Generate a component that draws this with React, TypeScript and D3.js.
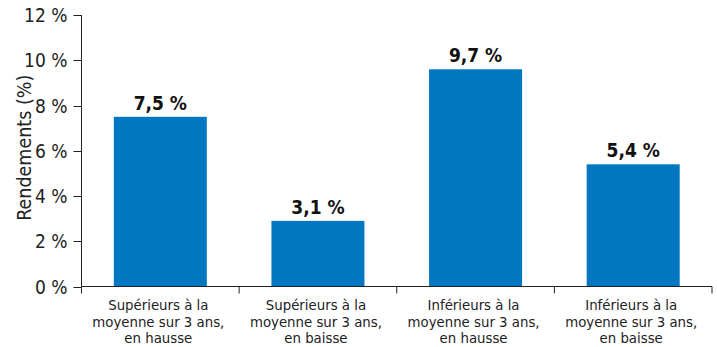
import React, { useRef, useEffect } from "react";
import * as d3 from "d3";

// categories (each label split in lines)
const categories = [
  ["Supérieurs à la", "moyenne sur 3 ans,", "en hausse"],
  ["Supérieurs à la", "moyenne sur 3 ans,", "en baisse"],
  ["Inférieurs à la", "moyenne sur 3 ans,", "en hausse"],
  ["Inférieurs à la", "moyenne sur 3 ans,", "en baisse"],
];
// bar heights
const values = [7.5, 2.9, 9.6, 5.4];
// value labels printed above the bars
const valueLabels = ["7,5 %", "3,1 %", "9,7 %", "5,4 %"];
const yTicks = [0, 2, 4, 6, 8, 10, 12];

const W = 717;
const H = 347;
const FONT = "'DejaVu Sans Condensed', 'Liberation Sans Narrow', sans-serif";

function App() {
  const svgRef = useRef<SVGSVGElement>(null);

  useEffect(() => {
    const svg = d3.select(svgRef.current);
    svg.selectAll("*").remove();

    const left = 81.5;
    const right = 712;
    const top = 15;
    const bottom = 286.5;

    const x = d3
      .scaleBand<number>()
      .domain(d3.range(values.length))
      .range([left, right])
      .paddingInner(0.41)
      .paddingOuter(0.205);
    const step = x.step();

    const y = d3.scaleLinear().domain([0, 12]).range([bottom, top]);

    // bars
    svg
      .append("g")
      .selectAll("rect")
      .data(values)
      .join("rect")
      .attr("x", (d, i) => x(i)!)
      .attr("y", (d) => y(d))
      .attr("width", x.bandwidth())
      .attr("height", (d) => bottom - y(d))
      .attr("fill", "#0077c0");

    // value labels
    svg
      .append("g")
      .selectAll("text")
      .data(values)
      .join("text")
      .attr("x", (d, i) => x(i)! + x.bandwidth() / 2)
      .attr("y", (d) => y(d) - 7)
      .attr("text-anchor", "middle")
      .style("font-family", FONT)
      .style("font-size", "19px")
      .style("font-weight", "bold")
      .attr("fill", "#111")
      .text((d, i) => valueLabels[i]);

    // y axis
    const ya = svg.append("g");
    ya.append("line")
      .attr("x1", left)
      .attr("x2", left)
      .attr("y1", top)
      .attr("y2", bottom)
      .attr("stroke", "#222");
    ya.selectAll("line.tick")
      .data(yTicks)
      .join("line")
      .attr("class", "tick")
      .attr("x1", left - 8)
      .attr("x2", left)
      .attr("y1", (d) => Math.round(y(d)) + 0.5)
      .attr("y2", (d) => Math.round(y(d)) + 0.5)
      .attr("stroke", "#222");
    ya.selectAll("text")
      .data(yTicks)
      .join("text")
      .attr("x", left - 14)
      .attr("y", (d) => y(d) + 7)
      .attr("text-anchor", "end")
      .style("font-family", FONT)
      .style("font-size", "19px")
      .attr("fill", "#222")
      .text((d) => `${d} %`);

    // y title
    svg
      .append("text")
      .attr("transform", `translate(31,${(top + bottom) / 2 - 3}) rotate(-90)`)
      .attr("text-anchor", "middle")
      .style("font-family", FONT)
      .style("font-size", "19.5px")
      .attr("fill", "#222")
      .text("Rendements (%)");

    // x axis
    const xa = svg.append("g");
    xa.append("line")
      .attr("x1", left)
      .attr("x2", right)
      .attr("y1", bottom)
      .attr("y2", bottom)
      .attr("stroke", "#222");
    xa.selectAll("line.tick")
      .data(d3.range(values.length + 1))
      .join("line")
      .attr("class", "tick")
      .attr("x1", (d) => left + d * step)
      .attr("x2", (d) => left + d * step)
      .attr("y1", bottom)
      .attr("y2", bottom + 7)
      .attr("stroke", "#222");

    const cat = xa
      .selectAll("text")
      .data(categories)
      .join("text")
      .attr("text-anchor", "middle")
      .style("font-family", FONT)
      .style("font-size", "14.8px")
      .attr("fill", "#222");
    cat
      .selectAll("tspan")
      .data((d) => d)
      .join("tspan")
      .attr("x", function () {
        const i = categories.indexOf(d3.select(this.parentNode as any).datum() as any);
        return x(i)! + x.bandwidth() / 2 - 2;
      })
      .attr("y", (d, j) => 310 + j * 16.5)
      .text((d) => d);
  }, []);

  return (
    <svg
      ref={svgRef}
      width={W}
      height={H}
      style={{ position: "absolute", left: 0, top: 0, background: "#fff" }}
    ></svg>
  );
}

export default App;
